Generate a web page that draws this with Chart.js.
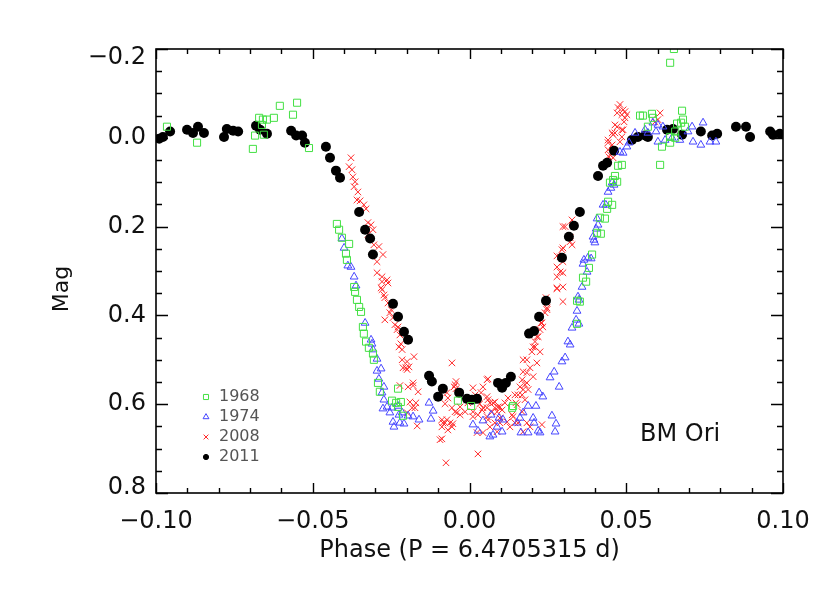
<!DOCTYPE html>
<html><head><meta charset="utf-8">
<script src="https://cdn.jsdelivr.net/npm/chart.js@4/dist/chart.umd.min.js"></script>
<style>html,body{margin:0;padding:0;background:#fff}#wrap{width:830px;height:593px}</style>
</head><body><div id="wrap"><canvas id="c" width="830" height="593"></canvas></div>
<script>
// ---- tick values / labels ----
const xMajorTicks = [-0.10, -0.05, 0, 0.05, 0.10];
const xTickLabels = ['−0.10', '−0.05', '0.00', '0.05', '0.10'];
const yMajorTicks = [-0.2, 0, 0.2, 0.4, 0.6, 0.8];
const yTickLabels = ['−0.2', '0.0', '0.2', '0.4', '0.6', '0.8'];
const seriesNames = ['1968', '1974', '2008', '2011'];
const xTitle = 'Phase (P = 6.4705315 d)';
const yTitle = 'Mag';
const starName = 'BM Ori';

// ---- observations: [phase, mag] ----
const obs1968 = [[-0.0965,-0.025],[-0.0869,0.011],[-0.0691,0.025],[-0.0684,-0.005],[-0.0671,-0.045],[-0.0662,-0.029],[-0.0659,-0.041],[-0.0656,-0.007],[-0.0646,-0.041],[-0.0624,-0.045],[-0.0605,-0.072],[-0.0563,-0.052],[-0.0550,-0.079],[-0.0512,0.023],[-0.0423,0.194],[-0.0416,0.207],[-0.0407,0.225],[-0.0384,0.239],[-0.0394,0.261],[-0.0391,0.275],[-0.0368,0.336],[-0.0365,0.347],[-0.0359,0.365],[-0.0352,0.381],[-0.0346,0.392],[-0.0340,0.426],[-0.0337,0.441],[-0.0330,0.459],[-0.0321,0.473],[-0.0308,0.486],[-0.0305,0.500],[-0.0292,0.552],[-0.0286,0.572],[-0.0228,0.565],[-0.0247,0.592],[-0.0234,0.597],[-0.0219,0.595],[-0.0228,0.606],[-0.0212,0.626],[-0.0037,0.592],[0.0005,0.604],[0.0136,0.608],[0.0139,0.604],[0.0343,0.367],[0.0343,0.419],[0.0352,0.369],[0.0362,0.315],[0.0372,0.324],[0.0381,0.293],[0.0391,0.263],[0.0407,0.214],[0.0419,0.216],[0.0416,0.180],[0.0432,0.182],[0.0439,0.160],[0.0442,0.144],[0.0455,0.151],[0.0448,0.101],[0.0471,0.099],[0.0464,0.086],[0.0458,0.095],[0.0474,0.063],[0.0486,0.061],[0.0544,-0.050],[0.0553,-0.050],[0.0582,-0.054],[0.0585,-0.045],[0.0569,-0.025],[0.0608,0.061],[0.0614,0.020],[0.0640,-0.002],[0.0640,0.011],[0.0656,-0.014],[0.0656,0.000],[0.0662,-0.032],[0.0675,-0.034],[0.0678,-0.061],[0.0681,-0.041],[0.0687,-0.025],[0.0640,-0.169],[0.0652,-0.200]];

const obs1974 = [[-0.0407,0.227],[-0.0400,0.248],[-0.0388,0.288],[-0.0378,0.291],[-0.0368,0.313],[-0.0362,0.333],[-0.0333,0.417],[-0.0314,0.455],[-0.0311,0.464],[-0.0308,0.477],[-0.0295,0.498],[-0.0295,0.525],[-0.0282,0.520],[-0.0289,0.543],[-0.0273,0.561],[-0.0279,0.574],[-0.0273,0.590],[-0.0276,0.610],[-0.0263,0.606],[-0.0254,0.619],[-0.0247,0.608],[-0.0228,0.604],[-0.0244,0.640],[-0.0225,0.624],[-0.0215,0.619],[-0.0241,0.651],[-0.0222,0.642],[-0.0209,0.644],[-0.0196,0.626],[-0.0180,0.628],[-0.0161,0.635],[-0.0129,0.597],[-0.0116,0.615],[-0.0123,0.633],[0.0011,0.646],[0.0027,0.660],[0.0043,0.637],[0.0065,0.673],[0.0075,0.669],[0.0069,0.624],[0.0088,0.651],[0.0094,0.631],[0.0104,0.662],[0.0107,0.635],[0.0152,0.642],[0.0161,0.631],[0.0171,0.619],[0.0164,0.664],[0.0187,0.604],[0.0187,0.664],[0.0203,0.631],[0.0206,0.642],[0.0212,0.604],[0.0222,0.574],[0.0234,0.583],[0.0219,0.660],[0.0225,0.664],[0.0263,0.626],[0.0276,0.644],[0.0273,0.662],[0.0257,0.540],[0.0270,0.527],[0.0286,0.561],[0.0295,0.504],[0.0305,0.495],[0.0314,0.459],[0.0321,0.466],[0.0327,0.428],[0.0343,0.390],[0.0340,0.410],[0.0349,0.419],[0.0346,0.358],[0.0349,0.365],[0.0359,0.336],[0.0375,0.302],[0.0362,0.284],[0.0365,0.275],[0.0378,0.270],[0.0388,0.272],[0.0394,0.223],[0.0397,0.230],[0.0404,0.205],[0.0410,0.196],[0.0407,0.182],[0.0426,0.151],[0.0435,0.151],[0.0442,0.122],[0.0451,0.113],[0.0455,0.101],[0.0461,0.106],[0.0480,0.032],[0.0490,0.034],[0.0502,0.020],[0.0509,0.011],[0.0528,-0.011],[0.0560,-0.018],[0.0569,-0.011],[0.0585,-0.034],[0.0595,-0.014],[0.0601,-0.029],[0.0617,-0.025],[0.0601,0.009],[0.0624,0.005],[0.0646,0.000],[0.0671,0.005],[0.0697,-0.014],[0.0710,-0.025],[0.0713,0.009],[0.0738,0.016],[0.0745,-0.034],[0.0767,0.009],[0.0786,0.009],[0.0400,0.236]];

const obs2008 = [[-0.0378,0.045],[-0.0384,0.065],[-0.0375,0.072],[-0.0372,0.088],[-0.0365,0.099],[-0.0368,0.110],[-0.0356,0.122],[-0.0359,0.140],[-0.0349,0.142],[-0.0337,0.151],[-0.0330,0.160],[-0.0324,0.191],[-0.0314,0.196],[-0.0308,0.207],[-0.0324,0.218],[-0.0305,0.241],[-0.0289,0.245],[-0.0276,0.263],[-0.0295,0.279],[-0.0295,0.304],[-0.0279,0.313],[-0.0263,0.320],[-0.0282,0.338],[-0.0270,0.360],[-0.0260,0.372],[-0.0270,0.410],[-0.0254,0.394],[-0.0244,0.405],[-0.0238,0.421],[-0.0231,0.432],[-0.0222,0.444],[-0.0219,0.464],[-0.0279,0.324],[-0.0260,0.327],[-0.0279,0.342],[-0.0273,0.354],[-0.0250,0.387],[-0.0228,0.426],[-0.0225,0.471],[-0.0215,0.477],[-0.0215,0.500],[-0.0212,0.518],[-0.0199,0.522],[-0.0193,0.516],[-0.0177,0.493],[-0.0199,0.504],[-0.0222,0.558],[-0.0196,0.561],[-0.0180,0.558],[-0.0164,0.572],[-0.0190,0.595],[-0.0171,0.597],[-0.0183,0.608],[-0.0167,0.649],[-0.0203,0.518],[-0.0180,0.552],[-0.0199,0.619],[-0.0174,0.608],
[-0.0056,0.507],[-0.0043,0.549],[-0.0049,0.561],[-0.0069,0.586],[-0.0078,0.599],[-0.0056,0.608],[-0.0040,0.619],[-0.0088,0.635],[-0.0078,0.642],[-0.0062,0.642],[-0.0053,0.644],[-0.0088,0.651],[-0.0094,0.680],[-0.0075,0.732],[-0.0088,0.678],[-0.0072,0.635],[-0.0085,0.642],[-0.0069,0.658],[-0.0046,0.556],[-0.0046,0.617],[-0.0014,0.617],[-0.0005,0.597],[-0.0030,0.624],[0.0011,0.628],[0.0040,0.613],[0.0056,0.545],[0.0037,0.574],[0.0056,0.583],[0.0065,0.597],[0.0081,0.595],[0.0091,0.606],[0.0056,0.608],[0.0072,0.617],[0.0088,0.617],[0.0104,0.613],[0.0059,0.635],[0.0097,0.631],[0.0120,0.640],[0.0136,0.624],[0.0155,0.642],[0.0123,0.586],[0.0145,0.579],[0.0171,0.500],[0.0183,0.529],[0.0177,0.556],[0.0161,0.561],[0.0187,0.567],[0.0152,0.601],[0.0168,0.617],[-0.0030,0.606],[0.0043,0.664],[0.0024,0.664],[0.0027,0.712],[-0.0072,0.574],[-0.0043,0.565],[0.0011,0.563],[0.0043,0.561],[0.0059,0.543],[0.0018,0.579],[0.0033,0.599],[0.0011,0.617],[0.0027,0.624],[0.0043,0.608],[0.0059,0.590],[0.0075,0.597],[0.0081,0.608],[0.0097,0.606],[0.0113,0.597],[0.0056,0.628],[0.0081,0.642],[0.0097,0.642],[0.0065,0.651],[0.0088,0.662],[-0.0056,0.651],[0.0139,0.628],[0.0145,0.642],[0.0129,0.651],[0.0183,0.642],[0.0193,0.651],[0.0231,0.646],[0.0171,0.662],
[0.0279,0.340],[0.0298,0.336],[0.0298,0.369],[0.0244,0.360],[0.0247,0.387],[0.0231,0.417],[0.0225,0.432],[0.0215,0.448],[0.0209,0.471],[0.0199,0.482],[0.0225,0.482],[0.0183,0.500],[0.0215,0.507],[0.0193,0.518],[0.0171,0.527],[0.0203,0.538],[0.0168,0.545],[0.0183,0.552],[0.0171,0.567],[0.0155,0.579],[0.0168,0.579],[0.0177,0.590],[0.0148,0.597],[0.0298,0.200],[0.0327,0.185],[0.0321,0.234],[0.0327,0.241],[0.0295,0.252],[0.0289,0.268],[0.0279,0.266],[0.0298,0.279],[0.0279,0.291],[0.0289,0.302],[0.0298,0.304],[0.0279,0.313],[0.0279,0.338],[0.0247,0.383],[0.0247,0.372],[0.0241,0.394],[0.0228,0.417],[0.0234,0.426],[0.0219,0.448],[0.0209,0.459],[0.0203,0.471],[0.0305,0.200],[0.0321,0.225],[0.0298,0.248],
[0.0474,-0.068],[0.0486,-0.052],[0.0471,-0.056],[0.0496,-0.059],[0.0464,-0.029],[0.0455,-0.011],[0.0464,-0.011],[0.0486,-0.002],[0.0442,0.005],[0.0455,0.016],[0.0442,0.027],[0.0448,0.038],[0.0458,0.045],[0.0608,-0.056],[0.0592,-0.036],[0.0471,-0.025],[0.0480,0.009],[0.0502,-0.052],[0.0496,-0.045],[0.0486,-0.018],[0.0458,-0.007],[0.0442,0.011],[0.0445,0.043],[0.0480,-0.075],[0.0490,-0.063],[0.0493,-0.036],[0.0490,-0.018],[0.0601,-0.041]];

const phase2011 = [-0.0990,-0.0978,-0.0955,-0.0901,-0.0882,-0.0866,-0.0847,-0.0783,-0.0774,-0.0754,-0.0738,-0.0681,-0.0668,-0.0646,-0.0569,-0.0553,-0.0534,-0.0525,-0.0458,-0.0445,-0.0426,-0.0413,-0.0352,-0.0333,-0.0317,-0.0308,-0.0244,-0.0228,-0.0209,-0.0196,-0.0129,-0.0120,-0.0100,-0.0085,-0.0033,-0.0008,0.0008,0.0024,0.0091,0.0104,0.0116,0.0132,0.0190,0.0206,0.0222,0.0244,0.0295,0.0317,0.0333,0.0352,0.0410,0.0426,0.0439,0.0461,0.0518,0.0537,0.0560,0.0569,0.0630,0.0649,0.0678,0.0738,0.0774,0.0790,0.0850,0.0882,0.0895,0.0959,0.0968,0.0990];
const mag2011 = [0.002,-0.002,-0.014,-0.018,-0.011,-0.025,-0.011,-0.002,-0.020,-0.016,-0.014,-0.027,-0.018,-0.009,-0.016,-0.005,-0.005,0.011,0.020,0.045,0.074,0.090,0.167,0.207,0.227,0.263,0.374,0.403,0.437,0.455,0.536,0.549,0.583,0.565,0.574,0.588,0.590,0.588,0.552,0.563,0.552,0.538,0.441,0.435,0.403,0.367,0.270,0.223,0.198,0.167,0.086,0.063,0.056,0.029,0.005,-0.002,-0.005,-0.002,-0.018,-0.020,-0.007,-0.014,-0.005,-0.009,-0.025,-0.025,-0.002,-0.014,-0.007,-0.009];

const toXY = arr => arr.map(p => ({x: p[0], y: p[1]}));
const pts2011 = phase2011.map((p, i) => ({x: p, y: mag2011[i]}));

const FONT = '"DejaVu Sans", "Liberation Sans", sans-serif';

const datasets = [
  {label: seriesNames[0], data: toXY(obs1968), pointStyle: 'rect', pointRadius: 5, borderColor: '#44e044', backgroundColor: 'rgba(0,0,0,0)', borderWidth: 1, order: 1, legendRadius: 3.6},
  {label: seriesNames[1], data: toXY(obs1974), pointStyle: 'triangle', pointRadius: 4.5, borderColor: '#4646ff', backgroundColor: 'rgba(0,0,0,0)', borderWidth: 1, order: 2, legendRadius: 3.4},
  {label: seriesNames[2], data: toXY(obs2008), pointStyle: 'crossRot', pointRadius: 4.6, borderColor: '#ff2a2a', backgroundColor: '#ff2a2a', borderWidth: 1, order: 4, legendRadius: 3.4},
  {label: seriesNames[3], data: pts2011, pointStyle: 'circle', pointRadius: 5, borderColor: '#000', backgroundColor: '#000', borderWidth: 0, order: 3, legendRadius: 2.6}
];

function near(v, list) { return list.findIndex(t => Math.abs(t - v) < 1e-6); }

const framePlugin = {
  id: 'idlFrame',
  afterDatasetsDraw(chart) {
    const ctx = chart.ctx, a = chart.chartArea;
    const xs = chart.scales.x, ys = chart.scales.y;
    ctx.save();
    ctx.strokeStyle = '#000';
    ctx.lineWidth = 1.6;
    ctx.strokeRect(a.left, a.top, a.right - a.left, a.bottom - a.top);
    ctx.lineWidth = 1.4;
    ctx.beginPath();
    xs.ticks.forEach(t => {
      const px = Math.round(xs.getPixelForValue(t.value)) + 0.5;
      const len = near(t.value, xMajorTicks) >= 0 ? 10 : 5;
      ctx.moveTo(px, a.bottom); ctx.lineTo(px, a.bottom - len);
      ctx.moveTo(px, a.top); ctx.lineTo(px, a.top + len);
    });
    ys.ticks.forEach(t => {
      const py = Math.round(ys.getPixelForValue(t.value)) + 0.5;
      const len = near(t.value, yMajorTicks) >= 0 ? 12 : 6;
      ctx.moveTo(a.left, py); ctx.lineTo(a.left + len, py);
      ctx.moveTo(a.right, py); ctx.lineTo(a.right - len, py);
    });
    ctx.stroke();

    // tick labels
    ctx.fillStyle = '#111';
    ctx.font = '24px ' + FONT;
    ctx.textAlign = 'center'; ctx.textBaseline = 'middle';
    xMajorTicks.forEach((v, i) => {
      ctx.fillText(xTickLabels[i], xs.getPixelForValue(v), a.bottom + 29);
    });
    ctx.textAlign = 'right';
    yMajorTicks.forEach((v, i) => {
      let py = ys.getPixelForValue(v);
      py = Math.min(Math.max(py, a.top + 9), a.bottom - 5);
      ctx.fillText(yTickLabels[i], a.left - 10, py);
    });
    // axis titles
    ctx.textAlign = 'center';
    ctx.fillText(xTitle, (a.left + a.right) / 2, a.bottom + 58);
    ctx.save();
    ctx.translate(a.left - 94, (a.top + a.bottom) / 2 + 18);
    ctx.rotate(-Math.PI / 2);
    ctx.font = '22px ' + FONT;
    ctx.fillText(yTitle, 0, 0);
    ctx.restore();
    // star name
    ctx.textAlign = 'left';
    ctx.fillText(starName, a.left + 484, a.bottom - 58);

    // legend
    ctx.font = '16px ' + FONT;
    ctx.fillStyle = '#555';
    chart.data.datasets.forEach((ds, i) => {
      const y = a.top + 348 + i * 20;
      const x = a.left + 50;
      ctx.save();
      ctx.strokeStyle = ds.borderColor; ctx.fillStyle = ds.backgroundColor; ctx.lineWidth = 1;
      Chart.helpers.drawPoint(ctx, {pointStyle: ds.pointStyle, radius: ds.legendRadius, borderWidth: 1, rotation: 0}, x, y);
      ctx.restore();
      ctx.fillText(ds.label, x + 13, y);
    });
    ctx.restore();
  }
};

new Chart(document.getElementById('c'), {
  type: 'scatter',
  data: {datasets},
  options: {
    responsive: false,
    animation: false,
    devicePixelRatio: 1,
    layout: {padding: {left: 156, right: 47, top: 49, bottom: 100}},
    plugins: {legend: {display: false}, tooltip: {enabled: false}},
    scales: {
      x: {type: 'linear', min: -0.1, max: 0.1,
          ticks: {stepSize: 0.01, display: false},
          grid: {display: false, drawTicks: false}, border: {display: false}},
      y: {type: 'linear', min: -0.2, max: 0.8, reverse: true,
          ticks: {stepSize: 0.05, display: false},
          grid: {display: false, drawTicks: false}, border: {display: false}}
    }
  },
  plugins: [framePlugin]
});
</script>
</body></html>
